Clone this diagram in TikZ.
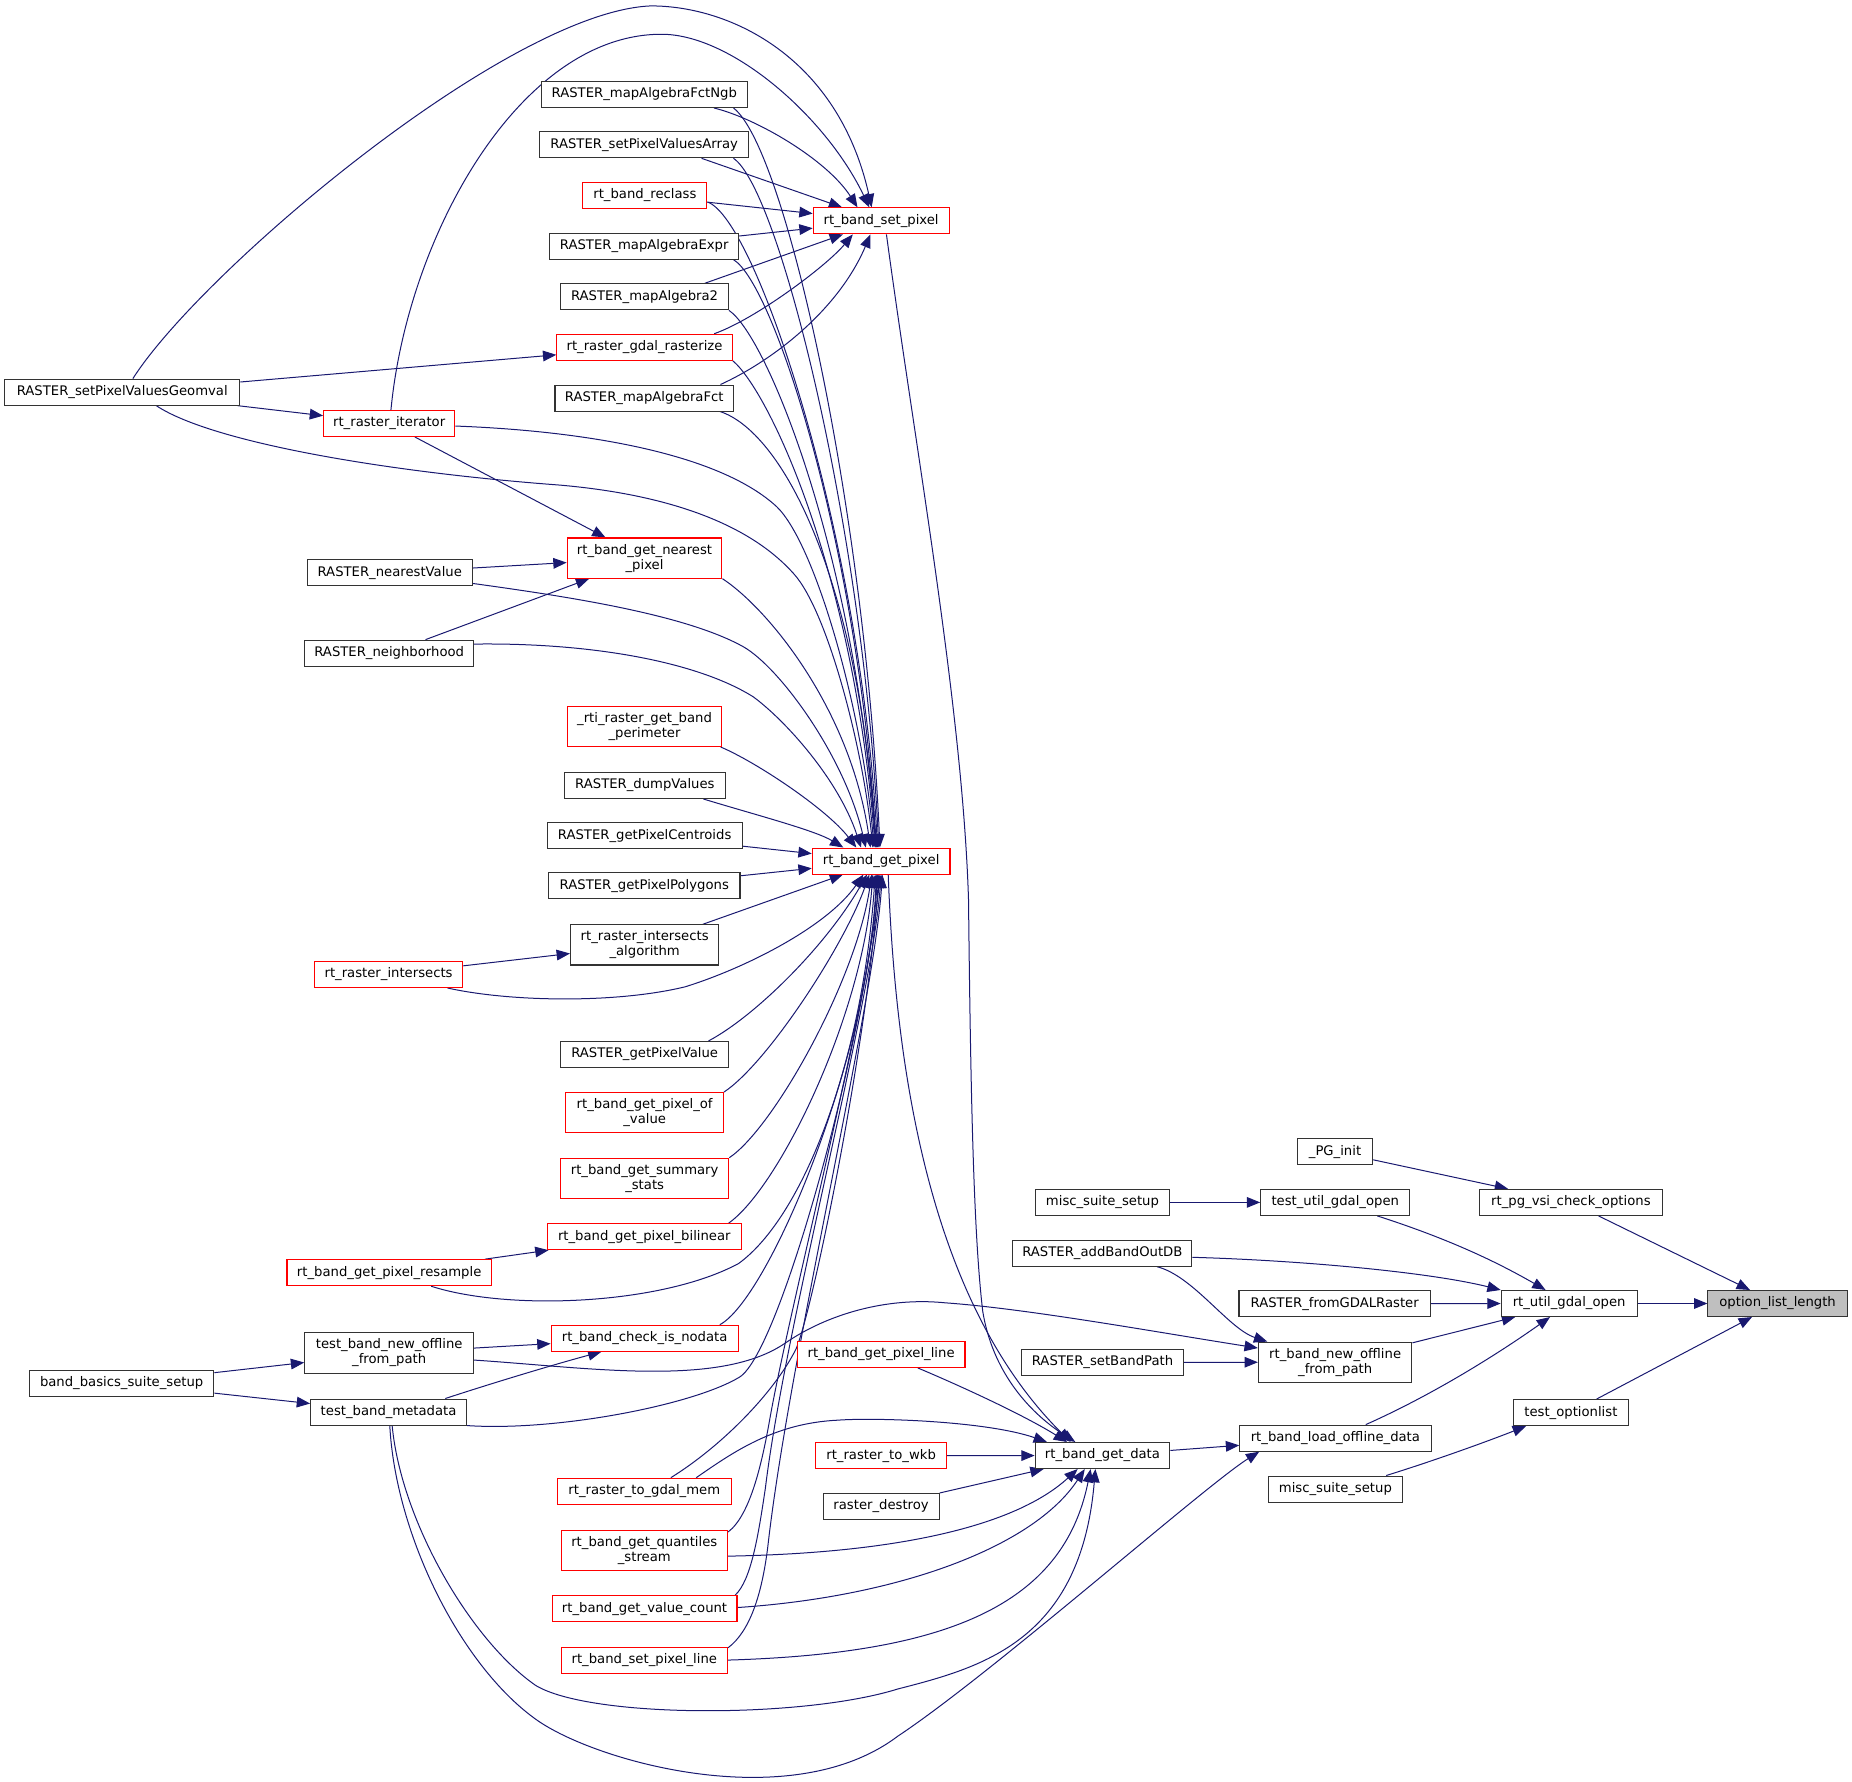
\documentclass[tikz,border=0pt]{standalone}
\usepackage{fontspec}
\setmainfont{DejaVu Sans}
\usetikzlibrary{arrows.meta,calc}
\pgfdeclarelayer{bg}
\pgfsetlayers{bg,main}
\definecolor{edgeblue}{HTML}{191970}
\definecolor{boxgray}{HTML}{333333}
\definecolor{boxred}{HTML}{FF0000}
\definecolor{rootfill}{HTML}{BFBFBF}
\def\pxu{0.8858pt}
\tikzset{
  nd/.style={draw=boxgray, line width=0.8pt, fill=white, inner sep=1pt, minimum height=22*\pxu, align=center, font=\fontsize{9.9pt}{11.3pt}\selectfont},
  rdn/.style={nd, draw=boxred},
  tall/.style={minimum height=34*\pxu},
  wd/.style={minimum width=#1*\pxu},
  edg/.style={draw=edgeblue, line width=0.75pt, -{Triangle[length=10pt,width=8pt]}},
}
\begin{document}
\begin{tikzpicture}[x=\pxu, y=-\pxu]
\useasboundingbox (0,0) rectangle (1568,1508);
% column A
\node[nd, wd=199] (geom) at (103.5,332) {RASTER\_setPixelValuesGeomval};
\node[nd, wd=156] (bbss) at (103,1171) {band\_basics\_suite\_setup};
% column B
\node[rdn, wd=111] (rit) at (329.5,358.5) {rt\_raster\_iterator};
\node[nd, wd=140] (rnv) at (330,485) {RASTER\_nearestValue};
\node[nd, wd=143] (rnh) at (329.5,553) {RASTER\_neighborhood};
\node[rdn, wd=125.5] (rri) at (329,825) {rt\_raster\_intersects};
\node[rdn, wd=173] (rgpr) at (329.5,1077.5) {rt\_band\_get\_pixel\_resample};
\node[nd, tall, wd=143] (tbnofp) at (329.5,1145.5) {test\_band\_new\_offline\\\_from\_path};
\node[nd, wd=132] (tbm) at (329,1195.5) {test\_band\_metadata};
% column C
\node[nd, wd=174] (fngb) at (545.5,80) {RASTER\_mapAlgebraFctNgb};
\node[nd, wd=177] (spva) at (545.4,122.6) {RASTER\_setPixelValuesArray};
\node[rdn, wd=105] (recl) at (546,165.5) {rt\_band\_reclass};
\node[nd, wd=160] (mexpr) at (545.4,208.4) {RASTER\_mapAlgebraExpr};
\node[nd, wd=142] (ma2) at (545.7,251.3) {RASTER\_mapAlgebra2};
\node[rdn, wd=148.5] (gdr) at (545.7,294) {rt\_raster\_gdal\_rasterize};
\node[nd, wd=151] (mfct) at (545.4,337) {RASTER\_mapAlgebraFct};
\node[rdn, tall, wd=131] (gnp) at (545.7,472.5) {rt\_band\_get\_nearest\\\_pixel};
\node[rdn, tall, wd=131] (rti) at (545.7,615) {\_rti\_raster\_get\_band\\\_perimeter};
\node[nd, wd=136] (dump) at (546,665) {RASTER\_dumpValues};
\node[nd, wd=165] (cent) at (545.8,707.5) {RASTER\_getPixelCentroids};
\node[nd, wd=162] (poly) at (545.5,750) {RASTER\_getPixelPolygons};
\node[nd, tall, wd=125.6] (ria) at (545.8,800) {rt\_raster\_intersects\\\_algorithm};
\node[nd, wd=142.5] (gpv) at (545.8,892.8) {RASTER\_getPixelValue};
\node[rdn, tall, wd=133.5] (gpov) at (545.8,942) {rt\_band\_get\_pixel\_of\\\_value};
\node[rdn, tall, wd=142.5] (gss) at (545.8,997.6) {rt\_band\_get\_summary\\\_stats};
\node[rdn, wd=164] (bil) at (545.5,1047) {rt\_band\_get\_pixel\_bilinear};
\node[rdn, wd=158.4] (cin) at (545.8,1133) {rt\_band\_check\_is\_nodata};
\node[rdn, wd=147] (tgm) at (545.5,1262.5) {rt\_raster\_to\_gdal\_mem};
\node[rdn, tall, wd=141] (gqs) at (545.5,1312.5) {rt\_band\_get\_quantiles\\\_stream};
\node[rdn, wd=156.5] (gvc) at (545.7,1362) {rt\_band\_get\_value\_count};
\node[rdn, wd=141] (spl) at (545.5,1405.5) {rt\_band\_set\_pixel\_line};
% column D
\node[rdn, wd=115] (sp) at (746,187) {rt\_band\_set\_pixel};
\node[rdn, wd=116.6] (gp) at (746,729) {rt\_band\_get\_pixel};
\node[rdn, wd=142] (gpl) at (746,1146.7) {rt\_band\_get\_pixel\_line};
\node[rdn, wd=111] (wkb) at (746,1232.5) {rt\_raster\_to\_wkb};
\node[nd, wd=98.3] (rdst) at (746,1275.4) {raster\_destroy};
% column E
\node[nd, wd=114] (mss1) at (933.4,1018) {misc\_suite\_setup};
\node[nd, wd=151.5] (abod) at (933.3,1061) {RASTER\_addBandOutDB};
\node[nd, wd=137] (sbp) at (933.4,1153.4) {RASTER\_setBandPath};
\node[nd, wd=114] (gd) at (933.4,1232.3) {rt\_band\_get\_data};
% column F
\node[nd, wd=63.7] (pgi) at (1130.3,975) {\_PG\_init};
\node[nd, wd=126.3] (tugo) at (1130.5,1018) {test\_util\_gdal\_open};
\node[nd, wd=162] (fgr) at (1130,1103.7) {RASTER\_fromGDALRaster};
\node[nd, tall, wd=130] (nofp) at (1130.4,1153.3) {rt\_band\_new\_offline\\\_from\_path};
\node[nd, wd=162] (lod) at (1130.6,1217.6) {rt\_band\_load\_offline\_data};
\node[nd, wd=114] (mss2) at (1130.6,1260.7) {misc\_suite\_setup};
% column G
\node[nd, wd=154.6] (vsi) at (1330,1018) {rt\_pg\_vsi\_check\_options};
\node[nd, wd=115] (util) at (1328.5,1103.6) {rt\_util\_gdal\_open};
\node[nd, wd=98] (tol) at (1330,1196) {test\_optionlist};
% root
\node[nd, fill=rootfill, wd=118] (oll) at (1505,1103.6) {option\_list\_length};

\begin{pgfonlayer}{bg}
% into root
\draw[edg] (util) -- (oll);
\draw[edg] (vsi) -- (oll);
\draw[edg] (tol) -- (oll);
\draw[edg] (pgi) -- (vsi);
% into rt_util_gdal_open
\draw[edg] (tugo) .. controls (1230,1050) and (1270,1070) .. (util);
\draw[edg] ($(abod.east)+(0,3.5)$) .. controls (1100,1067) and (1210,1077) .. (util.north west);
\draw[edg] (fgr) -- (util);
\draw[edg] (nofp) -- (util);
\draw[edg] (lod) .. controls (1215,1180) and (1270,1145) .. (util);
\draw[edg] (mss1) -- (tugo);
\draw[edg] ($(mss2.north)+(43,0)$) .. controls (1210,1238) and (1255,1222) .. ($(tol.south)+(-38,0)$);
% into rt_band_new_offline_from_path
\draw[edg] (abod) .. controls (1010,1080) and (1040,1125) .. ($(nofp.north west)+(8,0)$);
\draw[edg] (sbp) -- (nofp);
\draw[edg] ($(tbnofp.east)+(0,6)$) .. controls (500,1158) and (610,1175) .. (665,1137)
   .. controls (700,1113) and (750,1098) .. (800,1103)
   .. controls (870,1108) and (980,1128) .. ($(nofp.west)+(0,-12)$);
% into rt_band_load_offline_data
\draw[edg] (gd) -- (lod);
\draw[edg] ($(tbm.south)+(1,0)$) .. controls (335,1300) and (390,1410) .. (453.6,1455.6)
   .. controls (503.6,1491.6) and (670,1538) .. (760,1470)
   .. controls (840,1417) and (1020,1258) .. ($(lod.south west)+(17,0)$);
% into rt_band_get_data
\draw[edg] (wkb) -- (gd);
\draw[edg] (rdst) -- (gd);
\draw[edg] ($(gpl.south)+(31,0)$) .. controls (810,1172) and (865,1197) .. ($(gd.north)+(-30,0)$);
\draw[edg] ($(gp.south)+(6,0)$) .. controls (758,900) and (785,1100) .. ($(gd.north)+(-27,0)$);
\draw[edg] ($(sp.south)+(4.5,0)$) .. controls (775,380) and (815,600) .. (820,762)
   .. controls (822,950) and (825,1050) .. (832,1110)
   .. controls (840,1160) and (870,1195) .. ($(gd.north)+(-23,0)$);
\draw[edg] ($(tgm.north)+(44,0)$) .. controls (620,1230) and (655,1205) .. (709,1202.4)
   .. controls (740,1200) and (835,1203) .. ($(gd.north)+(-47,0)$);
\draw[edg] ($(gqs.east)+(0,5)$) .. controls (760,1315) and (860,1292) .. ($(gd.south)+(-21,0)$);
\draw[edg] ($(gvc.east)+(0,-1)$) .. controls (760,1352) and (875,1310) .. ($(gd.south)+(-15,0)$);
\draw[edg] (spl.east) .. controls (800,1400) and (900,1360) .. ($(gd.south)+(-10,0)$);
\draw[edg] ($(tbm.south)+(3,0)$) .. controls (340,1290) and (400,1390) .. (453.6,1427)
   .. controls (500,1455) and (680,1455) .. (760,1430)
   .. controls (830,1412) and (915,1390) .. ($(gd.south)+(-6,0)$);
% into rt_band_set_pixel
\draw[edg] ($(geom.north)+(9,0)$) .. controls (170,230) and (430,10) .. (551,5)
   .. controls (620,5) and (710,50) .. ($(sp.north)+(-8,0)$);
\draw[edg] ($(rit.north)+(1.5,0)$) .. controls (345,200) and (440,29) .. (560,29)
   .. controls (620,29) and (700,100) .. ($(sp.north)+(-10,0)$);
\draw[edg] ($(fngb.south)+(59,0)$) .. controls (640,100) and (700,135) .. ($(sp.north)+(-20,0)$);
\draw[edg] ($(spva.south)+(48.6,0)$) -- ($(sp.north)+(-33,0)$);
\draw[edg] (recl) -- (sp);
\draw[edg] (mexpr) -- (sp);
\draw[edg] ($(ma2.north)+(51,0)$) -- (sp);
\draw[edg] ($(gdr.north)+(59,0)$) .. controls (640,270) and (700,225) .. ($(sp.south)+(-24,0)$);
\draw[edg] ($(mfct.north)+(64.6,0)$) .. controls (655,305) and (710,262) .. ($(sp.south)+(-9,0)$);
% geomval direct
\draw[edg] (geom) -- (gdr);
\draw[edg] (geom) -- (rit);
% into rt_band_get_pixel from above
\draw[edg] ($(fngb.south)+(75.5,0)$) .. controls (665,125) and (732,430) .. ($(gp.north)+(-1,0)$);
\draw[edg] ($(spva.south)+(75.6,0)$) .. controls (660,160) and (731,450) .. ($(gp.north)+(-2,0)$);
\draw[edg] ($(recl.east)+(0,5.5)$) .. controls (640,185) and (728,450) .. ($(gp.north)+(-3,0)$);
\draw[edg] ($(mexpr.south)+(75.6,0)$) .. controls (655,240) and (726,460) .. ($(gp.north)+(-4,0)$);
\draw[edg] (ma2.south east) .. controls (650,285) and (724,470) .. ($(gp.north)+(-4.5,0)$);
\draw[edg] (gdr.south east) .. controls (650,330) and (722,480) .. ($(gp.north)+(-5,0)$);
\draw[edg] ($(mfct.south)+(64.3,0)$) .. controls (660,365) and (725,480) .. ($(gp.north)+(-4,0)$);
\draw[edg] ($(geom.south)+(28.8,0)$) .. controls (180,375) and (330,400) .. (474,410.7)
   .. controls (580,420) and (640,450) .. (671.7,485.4)
   .. controls (700,516) and (730,630) .. ($(gp.north)+(-7,0)$);
\draw[edg] ($(rit.east)+(0,2.2)$) .. controls (500,365) and (610,385) .. (657.6,429)
   .. controls (690,460) and (730,600) .. ($(gp.north)+(-6,0)$);
\draw[edg] (gnp.south east) .. controls (650,515) and (720,600) .. ($(gp.north)+(-9,0)$);
\draw[edg] ($(rnv.east)+(0,9)$) .. controls (480,505) and (580,520) .. (629.4,547.6)
   .. controls (660,565) and (715,640) .. ($(gp.north)+(-13,0)$);
\draw[edg] ($(rnh.east)+(0,-7.7)$) .. controls (500,544) and (590,560) .. (637.8,590)
   .. controls (665,610) and (710,660) .. ($(gp.north)+(-17,0)$);
\draw[edg] ($(rti.south east)+(-1.5,0)$) .. controls (640,645) and (700,685) .. ($(gp.north)+(-21,0)$);
\draw[edg] ($(dump.south)+(49.5,0)$) .. controls (640,690) and (690,703) .. ($(gp.north)+(-32,0)$);
\draw[edg] (cent) -- (gp);
% into rt_band_get_pixel from below
\draw[edg] (poly) -- (gp);
\draw[edg] (ria) -- (gp);
\draw[edg] ($(rri.south)+(49.8,0)$) .. controls (430,848) and (520,850) .. (580,835.5)
   .. controls (630,820) and (700,785) .. ($(gp.south)+(-15,0)$);
\draw[edg] ($(gpv.north)+(54,0)$) .. controls (640,860) and (700,800) .. ($(gp.south)+(-12,0)$);
\draw[edg] (gpov.north east) .. controls (650,900) and (715,800) .. ($(gp.south)+(-10,0)$);
\draw[edg] (gss.north east) .. controls (655,955) and (725,830) .. ($(gp.south)+(-8,0)$);
\draw[edg] ($(bil.north east)+(-11,0)$) .. controls (660,1005) and (730,860) .. ($(gp.south)+(-7,0)$);
\draw[edg] ($(rgpr.south)+(35.5,0)$) .. controls (430,1110) and (560,1105) .. (625.4,1069.7)
   .. controls (680,1030) and (730,900) .. ($(gp.south)+(-5,0)$);
\draw[edg] ($(cin.north east)+(-16,0)$) .. controls (650,1100) and (735,900) .. ($(gp.south)+(-4,0)$);
\draw[edg] (tbm.south east) .. controls (470,1212) and (586,1190) .. (626,1166)
   .. controls (661,1145) and (735,870) .. ($(gp.south)+(-3,0)$);
\draw[edg] ($(tgm.north)+(22.5,0)$) .. controls (610,1225) and (655,1180) .. (674,1142)
   .. controls (688,1110) and (735,880) .. ($(gp.south)+(-2,0)$);
\draw[edg] ($(gqs.north east)+(0,2)$) .. controls (635,1283) and (645,1240) .. (652,1200)
   .. controls (670,1100) and (735,850) .. ($(gp.south)+(-1,0)$);
\draw[edg] ($(gvc.north east)+(-2,0)$) .. controls (636,1338) and (642,1300) .. (648,1260)
   .. controls (665,1120) and (738,850) .. (gp.south);
\draw[edg] ($(spl.north east)+(0,1)$) .. controls (635,1381) and (645,1350) .. (650,1310)
   .. controls (668,1150) and (740,850) .. ($(gp.south)+(1,0)$);
% left side short edges
\draw[edg] (rit) -- (gnp);
\draw[edg] (rnv) -- (gnp);
\draw[edg] (rnh) -- (gnp);
\draw[edg] (rri) -- (ria);
\draw[edg] (rgpr) -- (bil);
\draw[edg] (tbnofp) -- (cin);
\draw[edg] ($(tbm.north)+(48,0)$) .. controls (420,1170) and (470,1155) .. ($(cin.south)+(-36.6,0)$);
\draw[edg] (bbss) -- (tbnofp);
\draw[edg] (bbss) -- (tbm);
\end{pgfonlayer}
\end{tikzpicture}
\end{document}
